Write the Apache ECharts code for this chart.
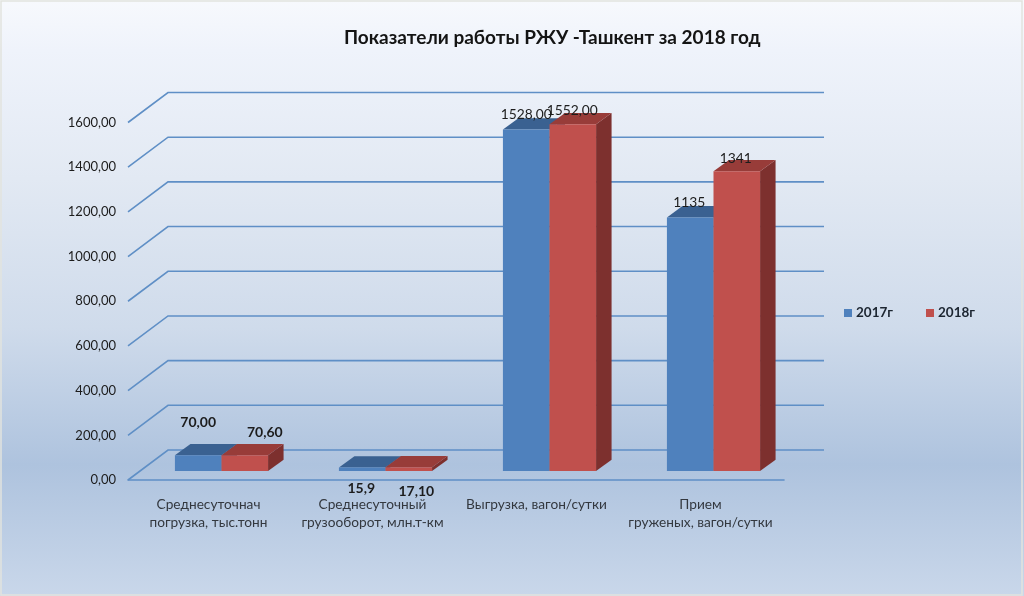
<!DOCTYPE html>
<html><head><meta charset="utf-8">
<style>html,body{margin:0;padding:0;background:#fff}#c{width:1024px;height:596px}</style>
<script src="https://cdn.jsdelivr.net/npm/echarts@6/dist/echarts.min.js"></script>
</head><body><div id="c"></div>
<script>
const titleText = 'Показатели работы РЖУ -Ташкент за 2018 год';
const categories = ['Среднесуточнач\nпогрузка, тыс.тонн','Среднесуточный\nгрузооборот, млн.т-км','Выгрузка, вагон/сутки','Прием\nгруженых, вагон/сутки'];
const seriesNames = ['2017г','2018г'];
const values2017 = [70.00, 15.9, 1528.00, 1135];
const values2018 = [70.60, 17.10, 1552.00, 1341];
const labels2017 = ['70,00','15,9','1528,00','1135'];
const labels2018 = ['70,60','17,10','1552,00','1341'];
const yTicks = [0,200,400,600,800,1000,1200,1400,1600];

const FONT = 'Lato, "Open Sans", sans-serif';
const GRID_COLOR = '#5f8fc6';
const WALL = [40,-30], BAR_SHIFT = [11.5,-9], BAR_DEPTH = [15.5,-11.3];
const BAR_RATIO = 0.284;
// label offsets from the centre of the bar's top front edge
const style2017 = {front:'#4f81bd',top:'#3a6191',side:'#345780',
  off:[[0,-33],[-1,21.5],[0,-15.5],[-1,-15]], bold:[true,true,false,false]};
const style2018 = {front:'#c0504d',top:'#983c39',side:'#7d302e',
  off:[[20,-23],[7.5,24],[-0.5,-14],[-1,-13]], bold:[true,true,false,false]};

function poly(points, fill){
  return {type:'polygon',shape:{points},style:{fill,stroke:null}};
}
function barRenderer(st, sign, labels){
  return function(params, api){
    const i = api.value(0);
    const w = api.size([1,0])[0]*BAR_RATIO;
    const top = api.coord([i, api.value(1)]);
    const base = api.coord([i, 0]);
    const x0 = top[0]+BAR_SHIFT[0]+(sign<0?-w:0), x1 = x0+w;
    const yt = top[1]+BAR_SHIFT[1], yb = base[1]+BAR_SHIFT[1];
    const dx = BAR_DEPTH[0], dy = BAR_DEPTH[1];
    const o = st.off[i];
    return {type:'group',children:[
      poly([[x1,yb],[x1+dx,yb+dy],[x1+dx,yt+dy],[x1,yt]], st.side),
      poly([[x0,yt],[x0+dx,yt+dy],[x1+dx,yt+dy],[x1,yt]], st.top),
      poly([[x0,yt],[x1,yt],[x1,yb],[x0,yb]], st.front),
      {type:'text',z2:50,style:{x:(x0+x1)/2+o[0],y:yt+o[1],text:labels[i],
        textAlign:'center',textVerticalAlign:'middle',fill:'#1c1c1c',
        fontFamily:FONT,fontSize:st.bold[i]?14:13.8,fontWeight:st.bold[i]?'bold':'normal'}}
    ]};
  };
}
function wallRenderer(params, api){
  const cs = params.coordSys;
  const p = api.coord([0, api.value(0)]);
  const xl = cs.x, y = p[1];
  return {type:'polyline',shape:{points:[[xl,y],[xl+WALL[0],y+WALL[1]],[xl+cs.width+WALL[0],y+WALL[1]]]},
    style:{stroke:GRID_COLOR,lineWidth:1.6,fill:null}};
}

const chart = echarts.init(document.getElementById('c'),null,{renderer:'canvas'});
chart.setOption({
  animation:false,
  backgroundColor:{type:'linear',x:0,y:0,x2:0,y2:1,colorStops:[
    {offset:0,color:'#f7f9fd'},{offset:0.084,color:'#eff3fb'},{offset:0.3,color:'#e2e9f3'},
    {offset:0.55,color:'#cfdbeb'},{offset:0.78,color:'#aec3de'},{offset:1,color:'#c9d7ea'}]},
  graphic:[{type:'rect',silent:true,shape:{x:1,y:1,width:1021,height:594},
    style:{fill:null,stroke:'#e2e3de',lineWidth:1.5}}],
  title:{text:titleText,left:344,top:28,padding:0,
    textStyle:{fontFamily:FONT,fontSize:19,fontWeight:'bold',color:'#141414'}},
  legend:{data:seriesNames,left:844,top:306,padding:0,itemWidth:8,itemHeight:8,itemGap:33,icon:'rect',
    textStyle:{fontFamily:FONT,fontSize:13.5,fontWeight:'bold',color:'#1c2530',padding:[0,0,0,-1]}},
  grid:{left:128,right:240,top:122.5,bottom:116,containLabel:false},
  xAxis:{type:'category',data:categories,
    axisLine:{show:true,lineStyle:{color:GRID_COLOR,width:1.6}},
    axisTick:{show:false},splitLine:{show:false},
    axisLabel:{interval:0,margin:16,fontFamily:FONT,fontSize:13.7,lineHeight:18,color:'#33383f',align:'center',padding:[0,3,0,0]}},
  yAxis:{type:'value',min:0,max:1600,interval:200,
    axisLine:{show:false},axisTick:{show:false},splitLine:{show:false},
    axisLabel:{margin:12,fontFamily:FONT,fontSize:13,color:'#1c1c1c',
      formatter:v=>v.toFixed(2).replace('.',',')}},
  series:[
    {type:'custom',name:'wall',silent:true,clip:false,z:1,renderItem:wallRenderer,
      encode:{y:0},data:yTicks.map(v=>[v])},
    {type:'custom',name:seriesNames[0],clip:false,z:2,itemStyle:{color:style2017.front},
      renderItem:barRenderer(style2017,-1,labels2017),encode:{x:0,y:1},
      data:values2017.map((v,i)=>[i,v])},
    {type:'custom',name:seriesNames[1],clip:false,z:3,itemStyle:{color:style2018.front},
      renderItem:barRenderer(style2018,1,labels2018),encode:{x:0,y:1},
      data:values2018.map((v,i)=>[i,v])}
  ]
});
</script></body></html>
